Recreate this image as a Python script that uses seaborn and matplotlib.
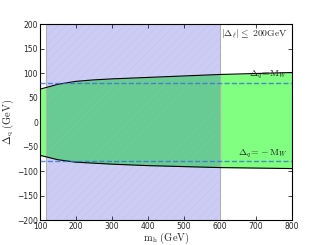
import numpy as np
import pandas as pd
import matplotlib
matplotlib.use("Agg")
import matplotlib.pyplot as plt
import seaborn as sns

# bornes de la bande verte
mh = [100, 150, 200, 250, 300, 400, 500, 600, 700, 800]
borne_haut = [67, 77, 83, 86, 88, 91, 94, 97, 99, 101]
borne_bas = [-68, -77, -82, -84, -86, -89, -91, -93, -94, -95]

# bande bleue (exclue) et lignes M_W
zone_bleue = [118, 600]
mw = 80.4

df = pd.DataFrame({'mh': mh, 'haut': borne_haut, 'bas': borne_bas})

sns.set_theme(style="white")
plt.rcParams['mathtext.fontset'] = 'cm'
plt.rcParams['hatch.linewidth'] = 0.4

fig = plt.figure(figsize=(3.25, 2.45), dpi=100)
ax = fig.add_axes([0.123, 0.102, 0.775, 0.8])

# bande verte
ax.fill_between(df['mh'], df['bas'], df['haut'], color='#80ff80', linewidth=0, zorder=1)
sns.lineplot(data=df, x='mh', y='haut', color='black', linewidth=0.8, ax=ax, zorder=3)
sns.lineplot(data=df, x='mh', y='bas', color='black', linewidth=0.8, ax=ax, zorder=3)

# zone bleue (hachures très légères)
ax.axvspan(zone_bleue[0], zone_bleue[1], facecolor=(0.0, 0.0, 0.8, 0.2), linewidth=0, zorder=2)
ax.axvspan(zone_bleue[0], zone_bleue[1], facecolor='none', edgecolor=(0.7, 0.7, 0.95, 0.35),
           hatch='////', linewidth=0, zorder=2)
for xv in zone_bleue:
    ax.axvline(xv, color='#b0b0b0', linewidth=0.8, zorder=2)

# lignes M_W
for v in [mw, -mw]:
    ax.axhline(v, color='#3a6fd8', linestyle='--', linewidth=1.0, alpha=0.8, zorder=4)

ax.text(790, 84, r'$\Delta_q\!=\!\mathrm{M}_W$', ha='right', va='bottom', fontsize=7, zorder=5)
ax.text(790, -77, r'$\Delta_q\!=\!-\mathrm{M}_W$', ha='right', va='bottom', fontsize=7, zorder=5)
ax.text(790, 192, r'$|\Delta_\ell|\leq\ 200\mathrm{GeV}$', ha='right', va='top', fontsize=7)

ax.set_xlim(100, 800)
ax.set_ylim(-200, 200)
ax.set_xticks(range(100, 801, 100))
ax.set_yticks(range(-200, 201, 50))
ax.set_xlabel(r'$\mathrm{m_h\ (GeV)}$', fontsize=7.5, labelpad=0)
ax.set_ylabel(r'$\mathrm{\Delta_q\ (GeV)}$', fontsize=7.5, labelpad=1)
ax.tick_params(direction='in', length=3, width=0.6, labelsize=5.5, pad=1.5,
               top=True, right=True, bottom=True, left=True)
for s in ax.spines.values():
    s.set_linewidth(0.8)
    s.set_color('black')

plt.savefig('out.png', dpi=100)
